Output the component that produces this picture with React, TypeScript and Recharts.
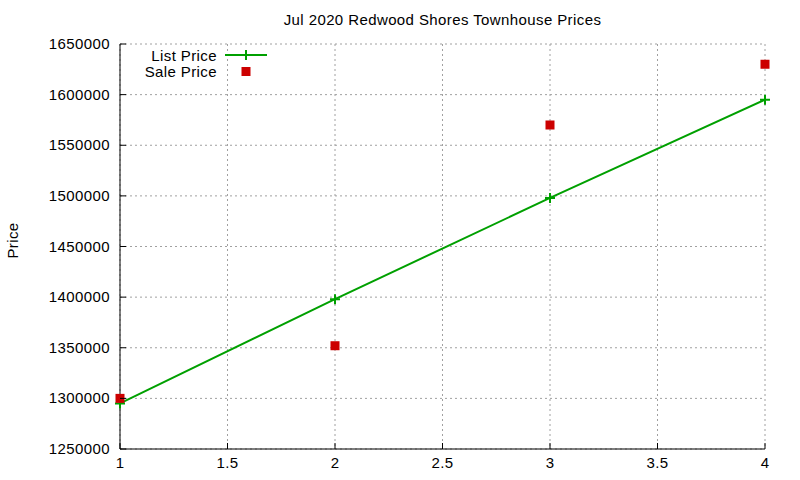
import { ComposedChart, Line, XAxis, YAxis, CartesianGrid, Label } from 'recharts'

const positions = [1, 2, 3, 4]
const listPrices = [1295000, 1398000, 1498000, 1595000]
const salePrices = [1300000, 1352000, 1570000, 1630000]
const xTicks = [1, 1.5, 2, 2.5, 3, 3.5, 4]
const yTicks = [1250000, 1300000, 1350000, 1400000, 1450000, 1500000, 1550000, 1600000, 1650000]

const GREEN = '#00a000'
const RED = '#cc0000'
const FONT = '"Liberation Sans", Arial, sans-serif'

const data = positions.map((x, i) => ({ x, list: listPrices[i], sale: salePrices[i] }))

const textStyle = { fontFamily: FONT, fontSize: 15, letterSpacing: 0.4, fill: '#000' }

function BottomTick({ x, y, payload }: any) {
  return (
    <g>
      <line x1={x} y1={y} x2={x} y2={y - 6} stroke="#000" />
      <text x={x} y={y + 19} textAnchor="middle" style={textStyle}>
        {payload.value}
      </text>
    </g>
  )
}

function LeftTick({ x, y, payload }: any) {
  return (
    <g>
      <line x1={x} y1={y} x2={x + 6} y2={y} stroke="#000" />
      <text x={x - 10} y={y + 5} textAnchor="end" style={textStyle}>
        {payload.value}
      </text>
    </g>
  )
}

function TopTick({ x, y }: any) {
  return <line x1={x} y1={y} x2={x} y2={y + 6} stroke="#000" />
}

function RightTick({ x, y }: any) {
  return <line x1={x} y1={y} x2={x - 6} y2={y} stroke="#000" />
}

function PriceLabel({ viewBox }: any) {
  const cx = viewBox.x + 12
  const cy = viewBox.y + viewBox.height / 2 - 6
  return (
    <text
      x={cx}
      y={cy}
      textAnchor="middle"
      dominantBaseline="central"
      transform={`rotate(-90 ${cx} ${cy})`}
      style={textStyle}
    >
      Price
    </text>
  )
}

function PlusDot({ cx, cy, index }: any) {
  return (
    <path
      key={`p${index}`}
      d={`M${cx - 5},${cy}h10M${cx},${cy - 5}v10`}
      stroke={GREEN}
      strokeWidth={2}
      fill="none"
    />
  )
}

function SquareDot({ cx, cy, index }: any) {
  return <rect key={`s${index}`} x={cx - 4.5} y={cy - 4.5} width={9} height={9} fill={RED} />
}

function LegendBox() {
  const row = { display: 'flex', alignItems: 'center', height: 16 }
  const label = { width: 117, textAlign: 'right' as const, ...textStyle, color: '#000' }
  return (
    <div style={{ position: 'absolute', left: 100, top: 47, fontFamily: FONT, fontSize: 15, letterSpacing: 0.4 }}>
      <div style={row}>
        <span style={label}>List Price</span>
        <svg width={50} height={16} style={{ marginLeft: 8 }}>
          <line x1={0} y1={8} x2={42} y2={8} stroke={GREEN} strokeWidth={2} />
          <path d="M16,8h10M21,3v10" stroke={GREEN} strokeWidth={2} />
        </svg>
      </div>
      <div style={row}>
        <span style={label}>Sale Price</span>
        <svg width={50} height={16} style={{ marginLeft: 8 }}>
          <rect x={16.5} y={4} width={9} height={9} fill={RED} />
        </svg>
      </div>
    </div>
  )
}

export default function App() {
  return (
    <div style={{ position: 'relative', width: 800, height: 480, background: '#fff' }}>
      <style>{'body{margin:0}'}</style>
      <div
        style={{
          position: 'absolute',
          left: 0,
          width: 885,
          top: 11,
          textAlign: 'center',
          fontFamily: FONT,
          fontSize: 15,
          letterSpacing: 0.4,
        }}
      >
        Jul 2020 Redwood Shores Townhouse Prices
      </div>
      <ComposedChart width={800} height={480} data={data} margin={{ top: 44, right: 35, bottom: 0, left: 0 }}>
        <CartesianGrid stroke="#a0a0a0" strokeDasharray="2 3" horizontal vertical />
        <XAxis
          dataKey="x"
          type="number"
          domain={[1, 4]}
          ticks={xTicks}
          interval={0}
          height={31}
          tickSize={0}
          tickMargin={0}
          tickLine={false}
          axisLine={{ stroke: '#000' }}
          tick={<BottomTick />}
        />
        <XAxis
          xAxisId="top"
          orientation="top"
          dataKey="x"
          type="number"
          domain={[1, 4]}
          ticks={xTicks}
          interval={0}
          height={0}
          tickSize={0}
          tickMargin={0}
          tickLine={false}
          axisLine={{ stroke: '#000' }}
          tick={<TopTick />}
        />
        <YAxis
          type="number"
          domain={[1250000, 1650000]}
          ticks={yTicks}
          interval={0}
          width={120}
          tickSize={0}
          tickMargin={0}
          tickLine={false}
          axisLine={{ stroke: '#000' }}
          tick={<LeftTick />}
        >
          <Label content={<PriceLabel />} />
        </YAxis>
        <YAxis
          yAxisId="right"
          orientation="right"
          type="number"
          domain={[1250000, 1650000]}
          ticks={yTicks}
          interval={0}
          width={0}
          tickSize={0}
          tickMargin={0}
          tickLine={false}
          axisLine={{ stroke: '#000' }}
          tick={<RightTick />}
        />
        <Line
          dataKey="list"
          stroke={GREEN}
          strokeWidth={2}
          dot={PlusDot}
          activeDot={false}
          isAnimationActive={false}
        />
        <Line
          dataKey="sale"
          stroke="none"
          dot={SquareDot}
          activeDot={false}
          isAnimationActive={false}
        />
      </ComposedChart>
      <LegendBox />
    </div>
  )
}
